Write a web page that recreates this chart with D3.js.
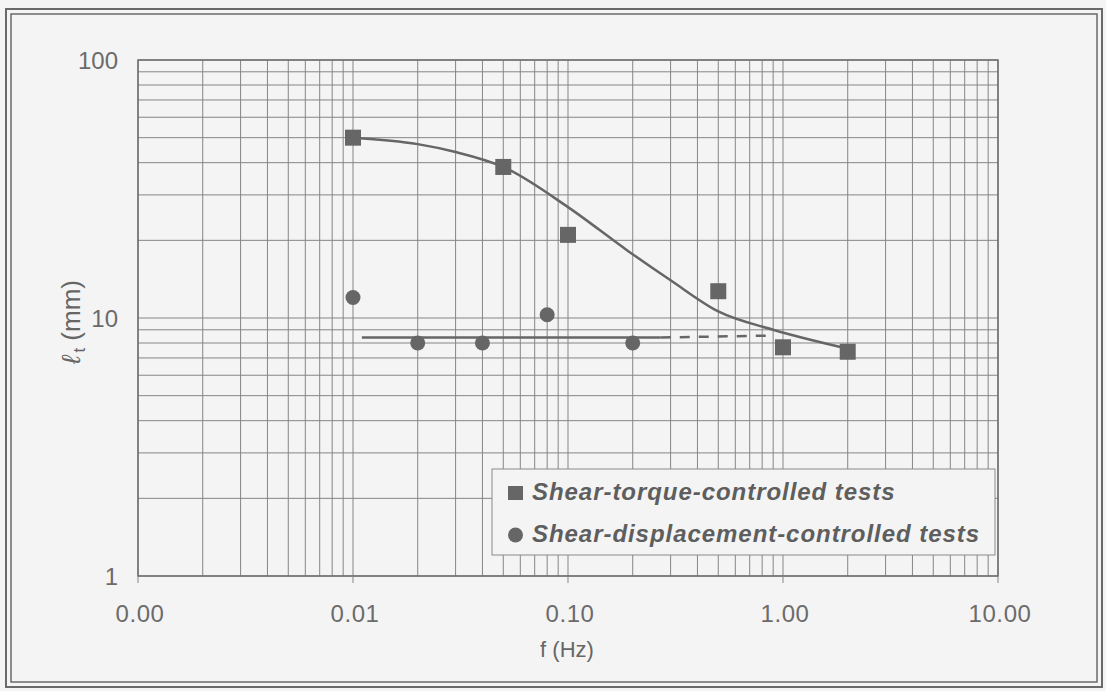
<!DOCTYPE html>
<html lang="en">
<head>
  <meta charset="UTF-8">
  <title>lt vs f</title>
  <script src="https://d3js.org/d3.v7.min.js"></script>
  <style>
    body { margin: 0; background: #f4f4f4; }
    svg { display: block; font-family: "Liberation Sans", Arial, sans-serif; }
    .grid line { stroke: #858585; stroke-width: 1; }
    .tick-label { fill: #6b6b6b; font-size: 24px; }
    .legend-text { fill: #5e5e5e; font-size: 24px; font-style: italic; font-weight: bold; letter-spacing: 0.95px; }
  </style>
</head>
<body>
  <svg width="1106" height="691"></svg>
  <script>
    // shear-torque-controlled tests (squares)
    const torqueF = [0.01, 0.05, 0.1, 0.5, 1, 2];
    const torqueLt = [50, 38.5, 21, 12.7, 7.7, 7.4];
    // fitted curve through the squares
    const fitF = [0.01, 0.02, 0.03, 0.05, 0.1, 0.19, 0.3, 0.5, 0.9, 2];
    const fitLt = [50, 47.2, 44, 38.5, 26.9, 18.2, 14, 10.6, 9.0, 7.6];
    // shear-displacement-controlled tests (circles)
    const dispF = [0.01, 0.02, 0.04, 0.08, 0.2];
    const dispLt = [12, 8, 8, 10.3, 8];
    // flat trend line for circles: solid part, then dashed part
    const flatF = [0.011, 0.27];
    const flatLt = [8.4, 8.4];
    const flatDashF = [0.27, 0.9];
    const flatDashLt = [8.4, 8.55];

    const xTicks = [0.001, 0.01, 0.1, 1, 10];
    const xTickLabels = ["0.00", "0.01", "0.10", "1.00", "10.00"];
    const yTicks = [1, 10, 100];
    const yTickLabels = ["1", "10", "100"];
    const legendLabels = ["Shear-torque-controlled tests", "Shear-displacement-controlled tests"];

    const svg = d3.select("svg");
    const plot = { left: 138, right: 998, top: 60, bottom: 576 };

    const x = d3.scaleLog().domain([0.001, 10]).range([plot.left, plot.right]);
    const y = d3.scaleLog().domain([1, 100]).range([plot.bottom, plot.top]);

    const markColor = "#666";

    // outer double frame
    svg.append("rect").attr("x", 6).attr("y", 9).attr("width", 1096).attr("height", 678)
      .attr("fill", "none").attr("stroke", "#6a6a6a").attr("stroke-width", 2);
    svg.append("rect").attr("x", 11).attr("y", 14).attr("width", 1086).attr("height", 668)
      .attr("fill", "none").attr("stroke", "#6a6a6a").attr("stroke-width", 1.5);

    // log grid: decades plus 2..9
    const minorVals = (lo, hi) => {
      const out = [];
      for (let d = lo; d < hi; d *= 10) {
        for (let k = 1; k <= 9; k++) out.push(d * k);
      }
      out.push(hi);
      return out;
    };

    const grid = svg.append("g").attr("class", "grid");
    grid.selectAll("line.v").data(minorVals(0.001, 10)).enter().append("line")
      .attr("class", "v")
      .attr("x1", d => x(d)).attr("x2", d => x(d))
      .attr("y1", plot.top).attr("y2", plot.bottom);
    grid.selectAll("line.h").data(minorVals(1, 100)).enter().append("line")
      .attr("class", "h")
      .attr("y1", d => y(d)).attr("y2", d => y(d))
      .attr("x1", plot.left).attr("x2", plot.right);

    // plot border
    svg.append("rect")
      .attr("x", plot.left).attr("y", plot.top)
      .attr("width", plot.right - plot.left).attr("height", plot.bottom - plot.top)
      .attr("fill", "none").attr("stroke", "#6e6e6e").attr("stroke-width", 1.5);

    // small ticks below x axis at decades
    svg.selectAll("line.xt").data(xTicks).enter().append("line")
      .attr("x1", d => x(d)).attr("x2", d => x(d))
      .attr("y1", plot.bottom).attr("y2", plot.bottom + 7)
      .attr("stroke", "#858585");

    // tick labels
    svg.selectAll("text.xl").data(xTicks).enter().append("text")
      .attr("class", "tick-label")
      .attr("x", d => x(d) + 2).attr("y", 622)
      .attr("text-anchor", "middle")
      .attr("letter-spacing", "0.6")
      .text((d, i) => xTickLabels[i]);
    svg.selectAll("text.yl").data(yTicks).enter().append("text")
      .attr("class", "tick-label")
      .attr("x", 118).attr("y", d => y(d) + 9)
      .attr("text-anchor", "end")
      .text((d, i) => yTickLabels[i]);

    // axis titles
    svg.append("text")
      .attr("x", 567).attr("y", 657)
      .attr("text-anchor", "middle")
      .attr("fill", "#666").attr("font-size", 22)
      .text("f (Hz)");

    const yTitle = svg.append("text")
      .attr("transform", "translate(80,322) rotate(-90)")
      .attr("text-anchor", "middle")
      .attr("fill", "#666").attr("font-size", 26);
    yTitle.append("tspan").attr("font-style", "italic").text("\u2113");
    yTitle.append("tspan").attr("font-size", 17).attr("dy", 5).attr("dx", 3).text("t");
    yTitle.append("tspan").attr("dy", -5).text(" (mm)");

    // series
    const line = d3.line().x(d => x(d[0])).y(d => y(d[1]));

    svg.append("g").selectAll("circle").data(d3.zip(dispF, dispLt)).enter().append("circle")
      .attr("cx", d => x(d[0])).attr("cy", d => y(d[1]))
      .attr("r", 7.5).attr("fill", markColor);

    svg.append("path").datum(d3.zip(flatF, flatLt))
      .attr("d", line).attr("fill", "none")
      .attr("stroke", markColor).attr("stroke-width", 2.5);
    svg.append("path").datum(d3.zip(flatDashF, flatDashLt))
      .attr("d", line).attr("fill", "none")
      .attr("stroke", markColor).attr("stroke-width", 2.5)
      .attr("stroke-dasharray", "10,9");

    svg.append("path").datum(d3.zip(fitF, fitLt))
      .attr("d", line.curve(d3.curveMonotoneX)).attr("fill", "none")
      .attr("stroke", markColor).attr("stroke-width", 2.5);

    const sq = 16;
    svg.append("g").selectAll("rect").data(d3.zip(torqueF, torqueLt)).enter().append("rect")
      .attr("x", d => x(d[0]) - sq / 2).attr("y", d => y(d[1]) - sq / 2)
      .attr("width", sq).attr("height", sq).attr("fill", markColor);

    // legend
    const lg = svg.append("g");
    lg.append("rect")
      .attr("x", 492).attr("y", 469).attr("width", 503).attr("height", 86)
      .attr("fill", "#f4f4f4").attr("stroke", "#8a8a8a").attr("stroke-width", 1);
    lg.append("rect").attr("x", 508).attr("y", 486).attr("width", 15).attr("height", 14)
      .attr("fill", markColor);
    lg.append("circle").attr("cx", 515.5).attr("cy", 535).attr("r", 7.5).attr("fill", markColor);
    lg.selectAll("text").data(legendLabels).enter().append("text")
      .attr("class", "legend-text")
      .attr("x", 532).attr("y", (d, i) => 500 + i * 42)
      .text(d => d);
  </script>
</body>
</html>
